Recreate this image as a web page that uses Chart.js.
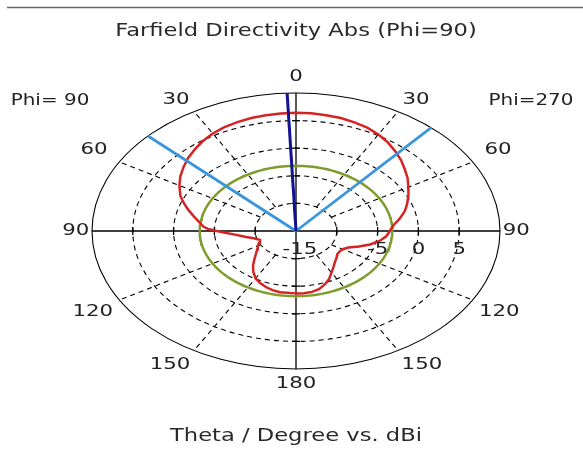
<!DOCTYPE html>
<html>
<head>
<meta charset="utf-8">
<script src="https://cdn.jsdelivr.net/npm/chart.js@4"></script>
<style>
  body { margin: 0; background: #fff; }
  #wrap { width: 583px; height: 449px; }
</style>
</head>
<body>
<div id="wrap"><canvas id="farfield" width="583" height="449"></canvas></div>
<script>
// theta in degrees: negative = Phi=90 side (left), positive = Phi=270 side (right)
const thetaDeg = [-180, -170, -165, -160, -155, -150, -145, -140, -135, -130, -125, -120, -115, -110, -105, -100, -95, -92, -90, -88, -86, -82, -78, -74, -70, -66, -60, -55, -50, -45, -40, -35, -30, -25, -20, -15, -10, -5, 0, 5, 10, 15, 20, 25, 30, 35, 40, 45, 50, 55, 60, 65, 70, 75, 80, 85, 90, 95, 100, 105, 110, 115, 120, 125, 130, 135, 140, 145, 150, 155, 160, 165, 170, 175, 180];
const directivityDbi = [-3.7, -3.75, -3.9, -4.2, -4.6, -5.1, -5.9, -6.8, -7.8, -8.6, -9.2, -9.6, -10.0, -10.3, -9.8, -8.8, -7.5, -6.3, -5.3, -4.2, -3.6, -3.0, -2.2, -1.3, -0.4, 0.5, 1.5, 2.3, 3.0, 3.7, 4.3, 4.9, 5.4, 5.75, 6.0, 6.2, 6.3, 6.35, 6.4, 6.4, 6.3, 6.2, 5.95, 5.65, 5.2, 4.6, 3.9, 3.2, 2.4, 1.7, 0.9, 0.2, -0.5, -1.2, -2.1, -3.0, -3.5, -3.9, -4.6, -5.6, -6.8, -7.9, -8.4, -8.5, -8.4, -8.0, -7.6, -7.0, -6.3, -5.4, -4.7, -4.1, -3.8, -3.7, -3.7];

const sideLobeLevel = -3.2;           // green circle
const mainLobeDir = -2.5;             // dark blue line
const beamWidthEdges = [-46.5, 41.5]; // light blue lines

const dbMin = -15, dbMax = 10;
const ringLevels = [-10, -5, 0, 5];
const dbLabels = [-15, -5, 0, 5];
const angleLabels = [0, 30, 60, 90, 120, 150, 180];

const R = dbMax - dbMin;
const textStretch = 1.33; // the original picture is stretched sideways
// where each angle label sits: [angle, radius in dB units from centre]
const labelPlace = { 0: [0, 27.9], 30: [31.8, 27.9], 60: [59.3, 28.8], 90: [90, 27],
                     120: [120.5, 28.9], 150: [147.6, 28.8], 180: [180, 27.7] };

function toXY(theta, dbi) {
    const r = dbi - dbMin;
    const a = theta * Math.PI / 180;
    return { x: r * Math.sin(a), y: r * Math.cos(a) };
}

function ray(theta) {
    return [toXY(theta, dbMin), toXY(theta, dbMax)];
}

const redPts = thetaDeg.map((t, i) => toXY(t, directivityDbi[i]));
const greenPts = [];
for (let t = -180; t <= 180; t += 2) greenPts.push(toXY(t, sideLobeLevel));

const line = (data, color, width) => ({
    data: data, showLine: true, borderColor: color, borderWidth: width,
    pointRadius: 0, fill: false, tension: 0
});

function wideText(ctx, txt, x, y) {
    ctx.save();
    ctx.translate(x, y);
    ctx.scale(textStretch, 1);
    ctx.fillText(txt, 0, 0);
    ctx.restore();
}

const polarGrid = {
    id: 'polarGrid',
    beforeDatasetsDraw(chart) {
        const { ctx, scales: { x, y } } = chart;
        const cx = x.getPixelForValue(0), cy = y.getPixelForValue(0);
        const px = (p) => [x.getPixelForValue(p.x), y.getPixelForValue(p.y)];
        ctx.save();
        ctx.strokeStyle = '#000';
        ctx.lineWidth = 1.1;

        // dashed rings
        ctx.setLineDash([5, 4]);
        ringLevels.forEach(v => {
            const rx = x.getPixelForValue(v - dbMin) - cx;
            const ry = cy - y.getPixelForValue(v - dbMin);
            ctx.beginPath();
            ctx.ellipse(cx, cy, rx, ry, 0, 0, Math.PI * 2);
            ctx.stroke();
        });
        // dashed spokes
        [30, 60, 120, 150].forEach(a => {
            [a, -a].forEach(t => {
                const p0 = px(toXY(t, ringLevels[0])), p1 = px(toXY(t, dbMax));
                ctx.beginPath();
                ctx.moveTo(p0[0], p0[1]);
                ctx.lineTo(p1[0], p1[1]);
                ctx.stroke();
            });
        });
        ctx.setLineDash([]);

        // outer ring
        ctx.beginPath();
        ctx.ellipse(cx, cy, x.getPixelForValue(R) - cx, cy - y.getPixelForValue(R), 0, 0, Math.PI * 2);
        ctx.stroke();

        // axes
        ctx.lineWidth = 1.3;
        ctx.beginPath();
        ctx.moveTo(x.getPixelForValue(-R), cy); ctx.lineTo(x.getPixelForValue(R), cy);
        ctx.moveTo(cx, y.getPixelForValue(R)); ctx.lineTo(cx, y.getPixelForValue(-R));
        ctx.stroke();

        // ticks on axes
        ctx.beginPath();
        ringLevels.forEach(v => {
            const r = v - dbMin;
            [r, -r].forEach(d => {
                const tx = x.getPixelForValue(d);
                ctx.moveTo(tx, cy - 4); ctx.lineTo(tx, cy + 4);
                const ty = y.getPixelForValue(d);
                ctx.moveTo(cx - 4, ty); ctx.lineTo(cx + 4, ty);
            });
        });
        ctx.stroke();
        ctx.restore();
    },
    afterDatasetsDraw(chart) {
        const { ctx, scales: { x, y } } = chart;
        const cy = y.getPixelForValue(0);
        ctx.save();
        ctx.fillStyle = '#222';
        ctx.textAlign = 'center';
        ctx.textBaseline = 'middle';
        ctx.font = '16px "DejaVu Sans", Verdana, sans-serif';

        angleLabels.forEach(a => {
            const [ang, r] = labelPlace[a];
            const sides = (a === 0 || a === 180) ? [ang] : [-ang, ang];
            sides.forEach(t => {
                const rad = t * Math.PI / 180;
                wideText(ctx, String(a), x.getPixelForValue(r * Math.sin(rad)), y.getPixelForValue(r * Math.cos(rad)));
            });
        });

        dbLabels.forEach(v => {
            wideText(ctx, String(v), x.getPixelForValue(v - dbMin) + (v === dbMin ? 4 : 0), cy + 19);
        });

        ctx.font = '15px "DejaVu Sans", Verdana, sans-serif';
        wideText(ctx, 'Phi= 90', 50, 101);
        wideText(ctx, 'Phi=270', 531, 101);

        ctx.fillStyle = '#2a2a2a';
        ctx.font = '17px "DejaVu Sans", Verdana, sans-serif';
        wideText(ctx, 'Farfield Directivity Abs (Phi=90)', 296, 32);
        wideText(ctx, 'Theta / Degree vs. dBi', 296, 437);

        ctx.strokeStyle = '#666';
        ctx.lineWidth = 1.5;
        ctx.beginPath();
        ctx.moveTo(7, 7.5); ctx.lineTo(583, 7.5);
        ctx.stroke();
        ctx.restore();
    }
};

new Chart(document.getElementById('farfield'), {
    type: 'scatter',
    data: {
        datasets: [
            line(ray(mainLobeDir), '#12128f', 3),
            line(ray(beamWidthEdges[0]), '#3a96dc', 2.8),
            line(ray(beamWidthEdges[1]), '#3a96dc', 2.8),
            line(redPts, '#d42424', 2.5),
            line(greenPts, '#7f9c2c', 2.5)
        ]
    },
    plugins: [polarGrid],
    options: {
        responsive: false,
        animation: false,
        layout: { padding: { left: 92, right: 83, top: 93, bottom: 80 } },
        plugins: { legend: { display: false }, tooltip: { enabled: false } },
        scales: {
            x: { type: 'linear', min: -R, max: R, display: false },
            y: { type: 'linear', min: -R, max: R, display: false }
        }
    }
});
</script>
</body>
</html>
